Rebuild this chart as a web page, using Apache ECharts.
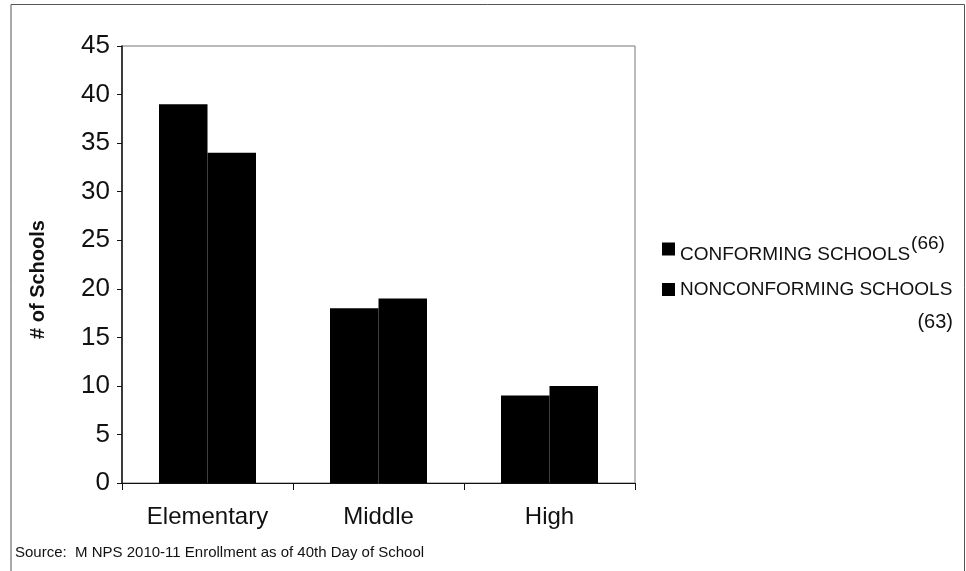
<!DOCTYPE html>
<html><head><meta charset="utf-8">
<script src="https://cdn.jsdelivr.net/npm/echarts@6/dist/echarts.min.js"></script>
<style>html,body{margin:0;padding:0;background:#fff}#c{width:966px;height:571px}</style>
</head><body><div id="c"></div>
<script>
const categories = ['Elementary', 'Middle', 'High'];
const conforming = [39, 18, 9];
const nonconforming = [34, 19, 10];
const seriesNames = ['CONFORMING SCHOOLS', 'NONCONFORMING SCHOOLS'];
const seriesCounts = ['(66)', '(63)'];
const yTicks = {min: 0, max: 45, interval: 5};
const sourceNote = 'Source:  M NPS 2010-11 Enrollment as of 40th Day of School';

const FONT = 'Liberation Sans, Arial, sans-serif';
const chart = echarts.init(document.getElementById('c'));
chart.setOption({
  animation: false,
  backgroundColor: '#fff',
  textStyle: {fontFamily: FONT},
  grid: {left: 122, right: 331, top: 46, bottom: 88, show: true, borderColor: '#777', borderWidth: 1},
  title: {
    text: sourceNote,
    left: 15, top: 545, padding: 0,
    textStyle: {fontSize: 15, fontWeight: 'normal', color: '#111', fontFamily: FONT}
  },
  legend: {
    orient: 'vertical', left: 662, top: 234, padding: 0, itemGap: 16,
    itemWidth: 13, itemHeight: 13, icon: 'rect',
    data: seriesNames,
    formatter: function (n) {
      if (n === seriesNames[0]) return '{a|' + n + '}{s|' + seriesCounts[0] + '}';
      return '{b|' + n + '}';
    },
    textStyle: {
      color: '#111',
      rich: {
        a: {fontSize: 19, color: '#111', lineHeight: 22, verticalAlign: 'bottom', fontFamily: FONT},
        b: {fontSize: 19, color: '#111', lineHeight: 22, fontFamily: FONT},
        s: {fontSize: 19, color: '#111', lineHeight: 30, verticalAlign: 'top', padding: [0, 0, 0, 1], fontFamily: FONT}
      }
    }
  },
  xAxis: {
    type: 'category', data: categories,
    axisLine: {lineStyle: {color: '#111', width: 1}},
    axisTick: {show: true, length: 7, lineStyle: {color: '#111'}},
    axisLabel: {fontSize: 24, color: '#111', margin: 22}
  },
  yAxis: {
    type: 'value', min: yTicks.min, max: yTicks.max, interval: yTicks.interval,
    name: '# of Schools', nameLocation: 'middle', nameGap: 74,
    nameTextStyle: {fontSize: 20, fontWeight: 'bold', color: '#111', padding: [0, 30, 0, 0]},
    axisLine: {show: true, lineStyle: {color: '#111', width: 1.5}},
    axisTick: {show: true, length: 5, lineStyle: {color: '#111'}},
    axisLabel: {fontSize: 26, color: '#111', margin: 12},
    splitLine: {show: false}
  },
  series: [
    {name: seriesNames[0], type: 'bar', data: conforming, barWidth: 48.5, barGap: '0%', itemStyle: {color: '#000'}},
    {name: seriesNames[1], type: 'bar', data: nonconforming, barWidth: 48.5, itemStyle: {color: '#000'}}
  ],
  graphic: [
    {type: 'polyline', shape: {points: [[11, 571], [11, 4.5], [964.5, 4.5], [964.5, 571]]}, style: {stroke: '#555', lineWidth: 1, fill: null}, silent: true},
    {type: 'text', right: 13, top: 312, style: {text: seriesCounts[1], font: '20px ' + FONT, fill: '#111'}, silent: true}
  ]
});
</script></body></html>
